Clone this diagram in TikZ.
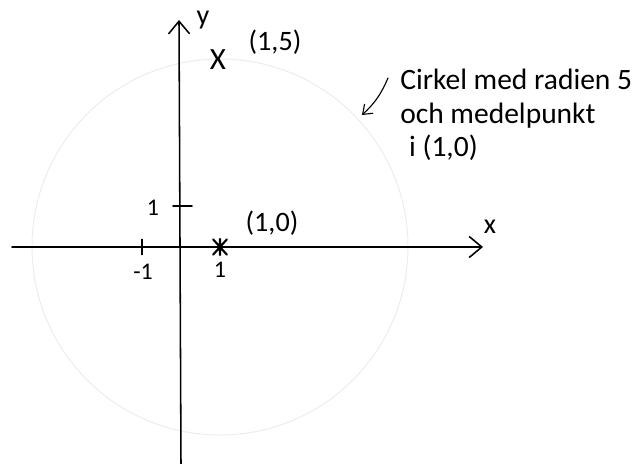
\documentclass[tikz,border=0pt]{standalone}
\usepackage{fontspec}
\setmainfont{Carlito}
\usetikzlibrary{arrows.meta}
\begin{document}
\begin{tikzpicture}[line cap=round, every node/.style={font=\fontsize{17}{19}\selectfont,inner sep=0pt},
  axel/.style={line width=1.1pt,-{Straight Barb[length=9pt,width=15pt,line width=1.1pt]}},
  skala/.style={line width=1.1pt},
  kryss/.style={line width=1.5pt},
  cirkel/.style={gray!15,line width=0.7pt},
  pilen/.style={line width=0.8pt,-{Straight Barb[length=6pt,width=9pt,line width=0.8pt]}}]
\useasboundingbox (-4.525,-5.425) rectangle (11.575,6.175);
\coordinate (xv) at (-4.225,0);
\coordinate (xh) at (7.55,0);
\coordinate (yn) at (0,-5.425);
\coordinate (yu) at (-0.05,5.675);
\coordinate (mitt) at (0.975,0);
\draw[cirkel] (mitt) circle (4.7);
\draw[axel] (xv) -- (xh);
\draw[axel] (yn) -- (yu);
\draw[kryss] (mitt) +(-0.17,0.19) -- +(0.17,-0.19) (mitt) +(-0.17,-0.19) -- +(0.17,0.19)
  (mitt) +(0,0.2) -- +(0,-0.2);
\coordinate (tm1) at (-0.975,0);
\coordinate (ty1) at (0,1.025);
\draw[skala] (tm1) ++(0,0.19) -- ++(0,-0.38);
\draw[skala] (ty1) ++(-0.2,0) -- ++(0.475,0);
\node (lm1) at (-0.95,-0.625) {-1};
\node (lx1) at (0.975,-0.575) {1};
\node (ly1) at (-0.7,0.975) {1};
\node[font=\fontsize{20}{20}\selectfont] (lx) at (7.725,0.5) {x};
\node[font=\fontsize{20}{20}\selectfont] (ly) at (0.55,5.675) {y};
\node[font=\fontsize{22}{22}\selectfont] (p15) at (0.925,4.675) {X};
\node[font=\fontsize{20}{20}\selectfont] (l15) at (2.35,5.125) {(1,5)};
\node[font=\fontsize{20}{20}\selectfont] (l10) at (2.275,0.6) {(1,0)};
\node[anchor=west,align=left,font=\fontsize{21}{24}\selectfont] (text) at (5.475,3.3)
  {Cirkel med radien 5\\och medelpunkt\\\hspace{0.3em}i (1,0)};
\coordinate (pilstart) at (5.175,4.225);
\coordinate (pilslut) at (4.525,3.3);
\draw[pilen] (pilstart) to[bend left=12] (pilslut);
\end{tikzpicture}
\end{document}
